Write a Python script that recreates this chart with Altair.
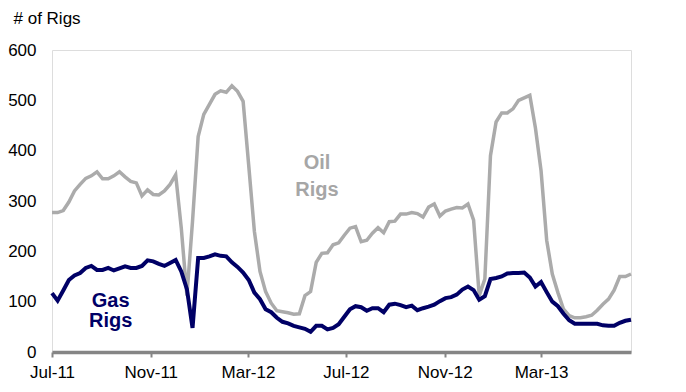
import altair as alt
import pandas as pd

# Weekly rig counts, first week of July 2011 through June 2013
week_dates = pd.date_range("2011-07-01", periods=104, freq="7D").strftime("%Y-%m-%d").tolist()

oil_rigs = [
    277, 277, 281, 298, 320, 333, 345, 350, 358, 344,
    344, 350, 358, 348, 339, 336, 310, 322, 313, 312,
    320, 333, 352, 246, 112, 260, 428, 472, 492, 512,
    519, 516, 529, 518, 498, 370, 240, 160, 120, 97,
    82, 80, 78, 75, 76, 112, 120, 178, 196, 197,
    213, 217, 232, 246, 249, 219, 222, 236, 247, 237,
    259, 260, 274, 274, 277, 275, 268, 288, 294, 270,
    280, 284, 287, 286, 294, 262, 112, 145, 390, 457,
    475, 475, 483, 500, 505, 510, 445, 360, 222, 155,
    118, 85, 72, 68, 68, 70, 73, 83, 95, 105,
    123, 150, 150, 155,
]

gas_rigs = [
    117, 102, 122, 143, 152, 157, 167, 171, 163, 163,
    167, 162, 166, 170, 167, 167, 171, 182, 180, 175,
    171, 177, 183, 160, 125, 48, 187, 187, 190, 194,
    191, 190, 178, 169, 158, 143, 118, 105, 85, 79,
    68, 60, 57, 52, 49, 46, 40, 52, 52, 45,
    48, 55, 70, 85, 91, 89, 82, 87, 87, 79,
    94, 96, 93, 89, 92, 83, 87, 90, 94, 101,
    107, 109, 114, 124, 130, 123, 104, 111, 145, 147,
    150, 156, 157, 157, 158, 148, 130, 139, 119, 100,
    91, 76, 63, 56, 56, 56, 56, 56, 53, 52,
    52, 58, 62, 64,
]

tick_dates = [(2011, 7), (2011, 11), (2012, 3), (2012, 7), (2012, 11), (2013, 3)]

# Series labels written inside the plot
oil_label_lines = ["Oil", "Rigs"]
gas_label_lines = ["Gas", "Rigs"]

OIL_COLOR = "#ABABAB"
GAS_COLOR = "#000066"
FONT = "Liberation Sans"

oil_df = pd.DataFrame({"date": week_dates, "rigs": oil_rigs})
gas_df = pd.DataFrame({"date": week_dates, "rigs": gas_rigs})

oil_text_df = pd.DataFrame({
    "date": ["2012-05-26", "2012-05-26"],
    "rigs": [376, 322],
    "label": oil_label_lines,
})
gas_text_df = pd.DataFrame({
    "date": ["2011-09-12", "2011-09-12"],
    "rigs": [101, 61],
    "label": gas_label_lines,
})

x_scale = alt.Scale(
    type="utc",
    domain=[alt.DateTime(year=2011, month=7, date=1, utc=True),
            alt.DateTime(year=2013, month=6, date=21, utc=True)],
)
y_scale = alt.Scale(domain=[0, 600], nice=False, zero=True)

x_axis = alt.Axis(
    values=[alt.DateTime(year=y, month=m, date=1, utc=True) for y, m in tick_dates],
    format="%b-%y",
    title=None,
    grid=False,
    domainColor="#858585",
    domainWidth=3.5,
    tickColor="#858585",
    tickWidth=2,
    tickSize=5,
    labelFontSize=17,
    labelFont=FONT,
    labelColor="#000000",
    labelPadding=7,
    labelFlush=False,
)

y_axis = alt.Axis(
    values=[0, 100, 200, 300, 400, 500, 600],
    title="# of Rigs",
    titleAngle=0,
    titleX=-39,
    titleY=-27,
    titleAlign="left",
    titleBaseline="alphabetic",
    titleFont=FONT,
    titleFontSize=17,
    titleFontWeight="normal",
    titleColor="#000000",
    grid=False,
    domain=False,
    ticks=False,
    tickSize=0,
    labelFontSize=17,
    labelFont=FONT,
    labelColor="#000000",
    labelPadding=16,
)

x_enc = alt.X("date:T", scale=x_scale, axis=x_axis)
y_enc = alt.Y("rigs:Q", scale=y_scale, axis=y_axis)

oil_line = alt.Chart(oil_df).mark_line(color=OIL_COLOR, strokeWidth=3.5).encode(x=x_enc, y=y_enc)
gas_line = alt.Chart(gas_df).mark_line(color=GAS_COLOR, strokeWidth=4).encode(
    x=alt.X("date:T", scale=x_scale), y=alt.Y("rigs:Q", scale=y_scale)
)

oil_text = alt.Chart(oil_text_df).mark_text(
    font=FONT, fontSize=20, fontWeight="bold", color="#A6A6A6", baseline="middle", align="center"
).encode(x=alt.X("date:T", scale=x_scale), y=alt.Y("rigs:Q", scale=y_scale), text="label:N")

gas_text = alt.Chart(gas_text_df).mark_text(
    font=FONT, fontSize=20, fontWeight="bold", color=GAS_COLOR, baseline="middle", align="center"
).encode(x=alt.X("date:T", scale=x_scale), y=alt.Y("rigs:Q", scale=y_scale), text="label:N")

chart = alt.layer(oil_line, gas_line, oil_text, gas_text).properties(
    width=579,
    height=302,
    autosize=alt.AutoSizeParams(type="none"),
    padding={"left": 52, "top": 50, "right": 55, "bottom": 40},
).configure_view(stroke=None).configure(background="#FFFFFF")

chart.save("out.html", embed_options={"renderer": "svg", "actions": False})
